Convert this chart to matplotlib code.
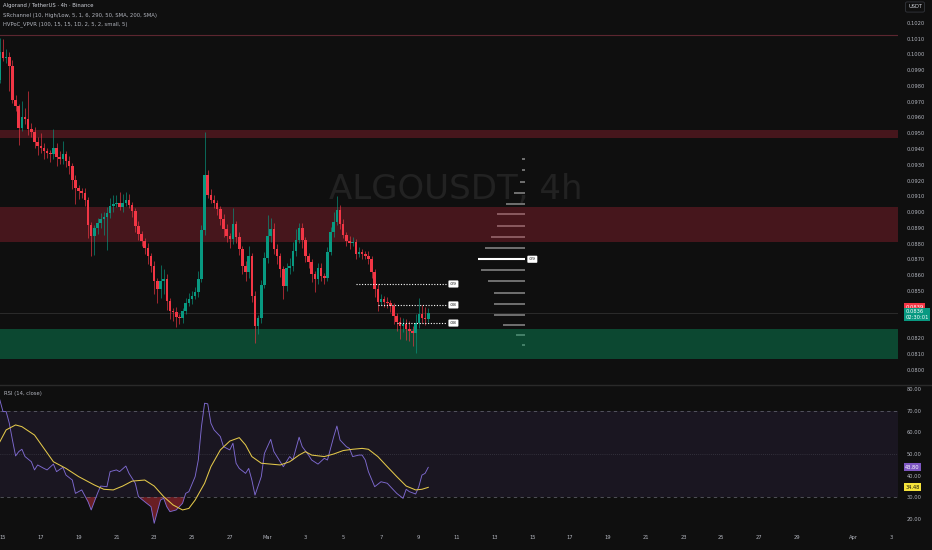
import matplotlib
matplotlib.use('Agg')
import matplotlib.pyplot as plt
import matplotlib.dates as mdates
import matplotlib.transforms as mtransforms
import numpy as np
import pandas as pd

# 4h candles, first one at Feb 14 20:00
closes = [0.10016, 0.09978, 0.09984, 0.09927, 0.09711, 0.09673, 0.09533, 0.09603, 0.09590, 0.09527,
          0.09508, 0.09444, 0.09419, 0.09406, 0.09387, 0.09375, 0.09368, 0.09406, 0.09349, 0.09337,
          0.09368, 0.09324, 0.09292, 0.09203, 0.09152, 0.09133, 0.09121, 0.09076, 0.08917, 0.08848,
          0.08898, 0.08930, 0.08956, 0.08968, 0.08994, 0.09038, 0.09051, 0.09057, 0.09032, 0.09057,
          0.09076, 0.09044, 0.09006, 0.08911, 0.08860, 0.08816, 0.08771, 0.08721, 0.08657, 0.08562,
          0.08511, 0.08562, 0.08575, 0.08435, 0.08371, 0.08365, 0.08333, 0.08327, 0.08371, 0.08422,
          0.08448, 0.08467, 0.08492, 0.08575, 0.08886, 0.09235, 0.09108, 0.09076, 0.09057, 0.09019,
          0.08956, 0.08892, 0.08848, 0.08829, 0.08924, 0.08841, 0.08765, 0.08657, 0.08619, 0.08721,
          0.08467, 0.08276, 0.08327, 0.08537, 0.08708, 0.08848, 0.08892, 0.08765, 0.08721, 0.08638,
          0.08530, 0.08644, 0.08657, 0.08752, 0.08822, 0.08898, 0.08822, 0.08721, 0.08683, 0.08606,
          0.08575, 0.08644, 0.08594, 0.08581, 0.08746, 0.08873, 0.08937, 0.09013, 0.08924, 0.08854,
          0.08816, 0.08803, 0.08810, 0.08733, 0.08746, 0.08733, 0.08721, 0.08702, 0.08619, 0.08511,
          0.08429, 0.08448, 0.08429, 0.08422, 0.08403, 0.08340, 0.08302, 0.08276, 0.08289, 0.08257,
          0.08244, 0.08232, 0.08295, 0.08352, 0.08327, 0.08321, 0.08359]
first_open = 0.09838
# wick lengths above / below the body, in units of 0.0001
up_wick = [9, 8, 5, 3, 4, 3, 1, 10, 6, 18, 4, 3, 3, 8, 3, 2, 2, 12, 3, 4,
           8, 2, 3, 2, 3, 2, 2, 3, 2, 2, 2, 3, 4, 3, 4, 5, 6, 5, 7, 6,
           5, 4, 2, 2, 3, 2, 2, 3, 2, 3, 2, 10, 6, 3, 2, 2, 3, 2, 2, 3,
           4, 3, 3, 5, 3, 27, 3, 4, 3, 2, 2, 3, 3, 2, 10, 2, 3, 2, 3, 6,
           2, 3, 2, 3, 4, 13, 7, 4, 3, 2, 2, 3, 5, 6, 7, 3, 3, 2, 2, 2,
           2, 3, 3, 2, 3, 3, 6, 9, 3, 3, 2, 3, 3, 2, 3, 2, 2, 3, 2, 2,
           3, 3, 2, 3, 2, 2, 2, 3, 4, 3, 5, 3, 6, 10, 6, 7, 3]
dn_wick = [2, 2, 3, 16, 2, 3, 11, 2, 3, 4, 3, 4, 6, 3, 5, 3, 5, 3, 6, 3,
           3, 4, 5, 6, 10, 5, 3, 4, 8, 13, 12, 4, 3, 10, 21, 3, 4, 2, 2, 3,
           2, 2, 4, 4, 4, 3, 4, 5, 4, 8, 9, 6, 8, 6, 5, 6, 6, 4, 3, 2,
           2, 3, 2, 3, 2, 3, 2, 2, 3, 4, 4, 5, 4, 6, 3, 4, 4, 5, 6, 4,
           4, 11, 5, 3, 2, 3, 4, 3, 5, 5, 8, 3, 4, 3, 3, 2, 5, 4, 4, 5,
           8, 3, 3, 4, 2, 2, 3, 2, 3, 2, 3, 4, 2, 3, 2, 3, 2, 3, 4, 5,
           6, 2, 3, 3, 4, 5, 6, 8, 4, 7, 6, 8, 13, 3, 3, 4, 2]

# RSI (14) and its MA, sampled at candle indices
rsi_idx = [0, 1, 2, 3, 4, 5, 6, 7, 8, 10, 11, 12, 14, 15, 17, 18, 20, 21, 23, 24, 26, 28, 29, 31, 32,
           34, 35, 37, 38, 40, 41, 43, 44, 46, 48, 49, 51, 52, 53, 54, 56, 58, 59, 60, 62, 63, 64, 65,
           66, 67, 68, 70, 71, 73, 74, 75, 76, 78, 79, 80, 81, 83, 84, 86, 87, 89, 90, 92, 93, 95, 96,
           98, 99, 101, 103, 104, 106, 107, 108, 110, 111, 112, 114, 115, 116, 117, 119, 121, 123,
           124, 126, 128, 129, 130, 132, 133, 134, 135, 136]
rsi_val = [75.1, 69.7, 69.7, 64.3, 56.5, 49.1, 51.1, 52.2, 48.8, 46.4, 42.6, 44.9, 43.3, 42.6, 45.3,
           41.8, 43.8, 40.2, 37.9, 31.7, 33.3, 27.8, 24.0, 31.7, 35.1, 34.8, 41.8, 42.6, 41.8, 44.4,
           41.0, 36.4, 30.2, 27.8, 25.5, 17.8, 28.6, 29.4, 25.5, 23.2, 24.0, 27.1, 31.7, 32.5, 39.5,
           47.2, 62.7, 73.6, 73.3, 64.3, 61.2, 58.1, 53.4, 51.9, 55.0, 45.7, 43.3, 41.0, 43.3, 37.9,
           30.9, 39.5, 50.3, 56.8, 51.1, 46.4, 44.1, 48.8, 47.2, 57.8, 53.4, 49.5, 47.2, 45.3, 48.0,
           47.2, 58.1, 63.0, 56.5, 53.4, 52.6, 48.8, 49.5, 49.5, 47.2, 41.8, 34.8, 37.1, 36.4, 34.8,
           31.7, 29.4, 33.6, 32.5, 31.4, 34.8, 40.2, 41.0, 43.8]
ma_idx = [0, 2, 5, 7, 11, 14, 17, 21, 25, 30, 33, 36, 39, 42, 46, 49, 52, 55, 58, 60, 62, 65, 67, 70,
          73, 76, 78, 80, 83, 86, 89, 92, 95, 97, 99, 103, 106, 109, 112, 115, 117, 120, 123, 126,
          129, 132, 134, 136]
ma_val = [55.7, 61.2, 63.5, 62.7, 58.8, 52.6, 46.4, 43.3, 39.5, 35.6, 33.6, 33.3, 35.1, 37.4, 37.9,
          35.1, 30.2, 26.3, 24.0, 24.7, 28.6, 36.4, 44.1, 51.9, 56.0, 57.6, 54.2, 48.8, 45.7, 45.3,
          44.9, 46.4, 49.5, 51.1, 49.5, 48.8, 50.0, 51.6, 52.2, 52.6, 52.2, 48.8, 44.1, 39.5, 35.1,
          33.3, 33.6, 34.5]

# volume profile rows (relative volume)
vp_prices = [0.09337, 0.09267, 0.09192, 0.09119, 0.09049, 0.08987, 0.08911, 0.08839, 0.08770,
             0.08700, 0.08630, 0.08560, 0.08488, 0.08414, 0.08348, 0.08284, 0.08217, 0.08157]
vp_vol = [6, 6, 11, 24, 40, 60, 60, 72, 86, 100, 93, 80, 66, 66, 66, 46, 20, 6]
poc_price = 0.08700

# daily HV PoC lines
hv_prices = [0.08543, 0.08410, 0.08295]
hv_start = ['2023-03-05 16:00', '2023-03-06 20:00', '2023-03-07 20:00']
hv_end = '2023-03-10 12:00'
hv_labels = ['.09', '.08', '.08']

# support / resistance zones (bottom, top)
red_zones = [(0.0947, 0.09521), (0.0881, 0.0903)]
green_zones = [(0.08067, 0.08257)]
top_line = 0.10124

last_price = 0.08359
red_tag = 0.08394

price_ticks = [0.1020, 0.1010, 0.1000, 0.0990, 0.0980, 0.0970, 0.0960, 0.0950, 0.0940, 0.0930,
               0.0920, 0.0910, 0.0900, 0.0890, 0.0880, 0.0870, 0.0860, 0.0850, 0.0820, 0.0810, 0.0800]
rsi_ticks = [80, 70, 60, 50, 40, 30, 20]

BG = '#0f0f0f'
UP = '#089981'
DN = '#f23645'
TXT = '#b2b5be'

t0 = pd.Timestamp('2023-02-14 20:00')
times = pd.date_range(t0, periods=len(closes), freq='4h')
xs = mdates.date2num(times)
opens = [first_open] + closes[:-1]
highs = [max(o, c) + u * 1e-4 for o, c, u in zip(opens, closes, up_wick)]
lows = [min(o, c) - d * 1e-4 for o, c, d in zip(opens, closes, dn_wick)]
cols = [UP if c >= o else DN for o, c in zip(opens, closes)]

fig = plt.figure(figsize=(9.32, 5.5), dpi=100, facecolor=BG)
ax = fig.add_axes([0, 1 - 384 / 550, 898 / 932, 384 / 550], facecolor=BG)
ax2 = fig.add_axes([0, 25 / 550, 898 / 932, 139 / 550], facecolor=BG)

left = mdates.date2num(pd.Timestamp('2023-02-15')) - 3 / 18.9
right = left + 898 / 18.9
for a in (ax, ax2):
    a.set_xlim(left, right)
    for s in a.spines.values():
        s.set_visible(False)

ax.set_ylim(0.07908, 0.10346)
ax2.set_ylim(17.0, 81.6)

# watermark
ax.text(0.508, 0.0914, 'ALGOUSDT, 4h', transform=mtransforms.blended_transform_factory(ax.transAxes, ax.transData),
        ha='center', va='center', fontsize=24.5, color='#222222', zorder=0)

# volume profile
vp_right = mdates.date2num(pd.Timestamp('2023-03-14 15:00'))
vp_w = [v / 100 * 47 / 18.9 for v in vp_vol]
for p, w in zip(vp_prices, vp_w):
    if p == poc_price:
        ax.hlines(p, vp_right - w, vp_right, color='#ffffff', lw=1.5, zorder=2)
    else:
        ax.hlines(p, vp_right - w, vp_right, color='#8a8a8a', lw=1.1, zorder=2)
ax.text(vp_right + 0.2, poc_price, '.09', fontsize=3.2, color='#111111', va='center', ha='left', zorder=6,
        bbox=dict(boxstyle='round,pad=0.35,rounding_size=0.2', fc='white', ec='none'))

# zones
for lo, hi in red_zones:
    ax.axhspan(lo, hi, color='#c8283c', alpha=0.3, lw=0, zorder=3)
for lo, hi in green_zones:
    ax.axhspan(lo, hi, color='#089961', alpha=0.42, lw=0, zorder=3)
ax.axhline(top_line, color='#5c2630', lw=0.8, zorder=3)
ax.axhline(last_price, color='#2b2b2b', lw=0.7, zorder=3)

# candles
ax.vlines(xs, lows, highs, colors=cols, lw=0.6, alpha=0.75, zorder=4)
bw = 4 / 24 * 0.8
ax.bar(xs, [max(abs(c - o), 0.00003) for o, c in zip(opens, closes)],
       bottom=[min(o, c) for o, c in zip(opens, closes)], width=bw, color=cols, lw=0, zorder=5)

# HV PoC dotted lines
hv_e = mdates.date2num(pd.Timestamp(hv_end))
for p, s, lab in zip(hv_prices, hv_start, hv_labels):
    ax.hlines(p, mdates.date2num(pd.Timestamp(s)), hv_e, color='white', lw=0.8,
              linestyles=(0, (1, 1.5)), zorder=6)
    ax.text(hv_e + 0.15, p, lab, fontsize=3.2, color='#111111', va='center', ha='left', zorder=7,
            bbox=dict(boxstyle='round,pad=0.35,rounding_size=0.2', fc='white', ec='none'))

# price axis
ax.yaxis.tick_right()
ax.set_yticks(price_ticks)
ax.set_yticklabels(['%.4f' % t for t in price_ticks])
ax.tick_params(axis='y', length=0, pad=6, labelsize=3.7, colors=TXT)
ax.set_xticks([])
ytr = mtransforms.blended_transform_factory(ax.transAxes, ax.transData)
ax.text(1.008, red_tag, '0.0839', transform=ytr, fontsize=3.7, color='white', va='center', ha='left',
        clip_on=False, zorder=8, bbox=dict(boxstyle='square,pad=0.3', fc=DN, ec='none'))
ax.text(1.008, last_price + 0.00022, '0.0836\n02:30:01', transform=ytr, fontsize=3.7, color='white',
        va='top', ha='left', clip_on=False, zorder=8, linespacing=1.1,
        bbox=dict(boxstyle='square,pad=0.3', fc=UP, ec='none'))

# header texts
fig.text(3 / 932, 1 - 6 / 550, 'Algorand / TetherUS · 4h · Binance', fontsize=3.8, color='#d1d4dc', va='center')
fig.text(3 / 932, 1 - 15 / 550, 'SRchannel (10, High/Low, 5, 1, 6, 290, 50, SMA, 200, SMA)', fontsize=3.8,
         color=TXT, va='center')
fig.text(3 / 932, 1 - 24 / 550, 'HVPoC_VPVR (100, 15, 15, 1D, 2, 5, 2, small, 5)', fontsize=3.8,
         color=TXT, va='center')
fig.text(915 / 932, 1 - 7 / 550, 'USDT', fontsize=3.7, color='#d1d4dc', ha='center', va='center',
         bbox=dict(boxstyle='round,pad=0.5,rounding_size=0.3', fc=BG, ec='#3a3d45', lw=0.5))

# panel separator
fig.add_artist(plt.Line2D([0, 1], [1 - 385 / 550, 1 - 385 / 550], color='#2a2a2a', lw=1))

# RSI panel
rsi_x = mdates.date2num(times[rsi_idx])
ma_x = mdates.date2num(times[ma_idx])
rsi_arr = np.array(rsi_val)
ax2.axhspan(30, 70, color='#7e57c2', alpha=0.1, lw=0)
ax2.axhline(70, color='#787b86', lw=0.6, ls=(0, (4, 4)), alpha=0.7)
ax2.axhline(30, color='#787b86', lw=0.6, ls=(0, (4, 4)), alpha=0.7)
ax2.axhline(50, color='#787b86', lw=0.5, ls=(0, (1, 2)), alpha=0.5)
ax2.fill_between(rsi_x, rsi_arr, 30, where=rsi_arr < 30, interpolate=True, color='#f23645', alpha=0.4, lw=0)
ax2.plot(rsi_x, rsi_val, color='#7e6ad0', lw=0.65)
ax2.plot(ma_x, ma_val, color='#e3c84a', lw=0.75)
ax2.text(4 / 898, 1 - 8 / 139, 'RSI (14, close)', transform=ax2.transAxes, fontsize=3.8, color=TXT, va='center')

ax2.yaxis.tick_right()
ax2.set_yticks(rsi_ticks)
ax2.set_yticklabels(['%.2f' % t for t in rsi_ticks])
ax2.tick_params(axis='y', length=0, pad=6, labelsize=3.7, colors=TXT)
rtr = mtransforms.blended_transform_factory(ax2.transAxes, ax2.transData)
ax2.text(1.008, rsi_val[-1], '%.2f' % rsi_val[-1], transform=rtr, fontsize=3.7, color='white', va='center',
         ha='left', clip_on=False, zorder=8, bbox=dict(boxstyle='square,pad=0.3', fc='#7e57c2', ec='none'))
ax2.text(1.008, 34.48, '34.48', transform=rtr, fontsize=3.7, color='#111111', va='center', ha='left',
         clip_on=False, zorder=8, bbox=dict(boxstyle='square,pad=0.3', fc='#f5e33b', ec='none'))

# date axis
tick_dates = pd.to_datetime(['2023-02-15', '2023-02-17', '2023-02-19', '2023-02-21', '2023-02-23',
                             '2023-02-25', '2023-02-27', '2023-03-01', '2023-03-03', '2023-03-05',
                             '2023-03-07', '2023-03-09', '2023-03-11', '2023-03-13', '2023-03-15',
                             '2023-03-17', '2023-03-19', '2023-03-21', '2023-03-23', '2023-03-25',
                             '2023-03-27', '2023-03-29', '2023-04-01', '2023-04-03'])
tick_labels = ['Mar' if d.month == 3 and d.day == 1 else 'Apr' if d.month == 4 and d.day == 1 else str(d.day)
               for d in tick_dates]
ax2.set_xticks(mdates.date2num(tick_dates))
ax2.set_xticklabels(tick_labels)
ax2.tick_params(axis='x', length=0, pad=7, labelsize=3.7, colors=TXT)

fig.savefig('out.png', dpi=100, facecolor=BG)
